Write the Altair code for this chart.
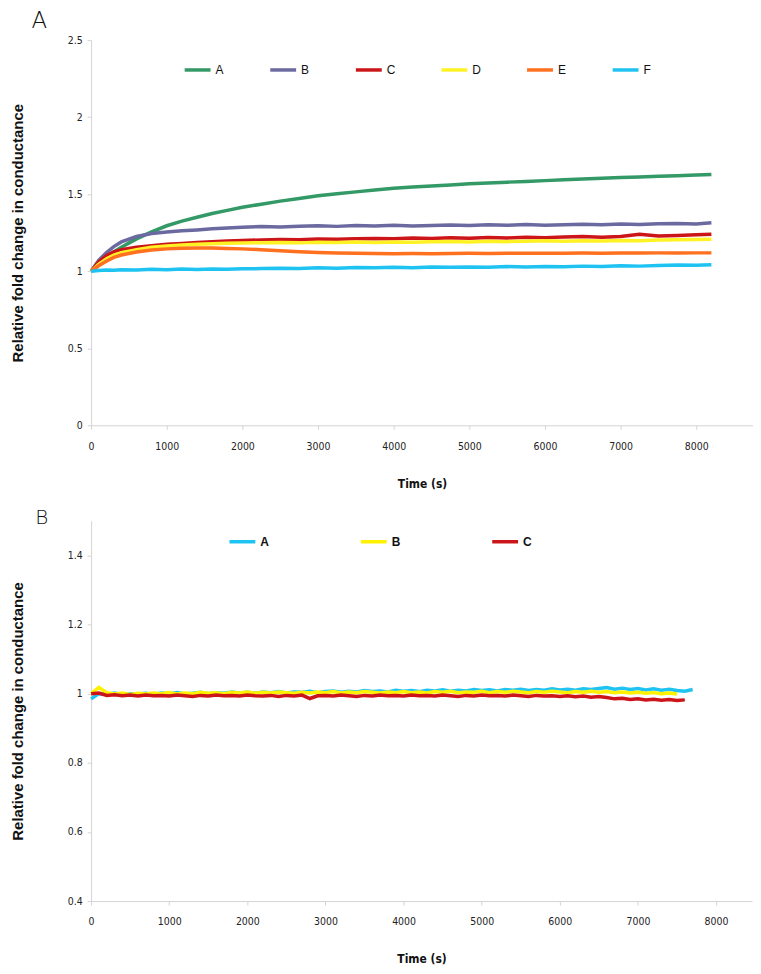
import altair as alt
import pandas as pd

# ---------------- Panel A data ----------------
t_top = [0, 100, 200, 300, 400, 600, 800, 1000, 1200, 1400, 1600, 1800, 2000,
         2250, 2500, 2750, 3000, 3250, 3500, 3750, 4000, 4250, 4500, 4750, 5000,
         5250, 5500, 5750, 6000, 6250, 6500, 6750, 7000, 7250, 7500, 7750, 8000,
         8200]
top_names = ["A", "B", "C", "D", "E", "F"]
top_colors = ["#339966", "#6a6aa0", "#cc1518", "#fff224", "#ff701f", "#1ec3f2"]

top_A = [1.000, 1.040, 1.085, 1.125, 1.155, 1.210, 1.255, 1.295, 1.325, 1.350, 1.375, 1.395, 1.415,
         1.435, 1.455, 1.472, 1.490, 1.503, 1.515, 1.527, 1.538, 1.546, 1.553, 1.560, 1.567,
         1.573, 1.578, 1.583, 1.588, 1.593, 1.598, 1.603, 1.608, 1.612, 1.616, 1.620, 1.625,
         1.628]
top_B = [1.000, 1.070, 1.120, 1.160, 1.190, 1.225, 1.245, 1.255, 1.262, 1.268, 1.275, 1.280, 1.285,
         1.290, 1.287, 1.292, 1.295, 1.291, 1.296, 1.293, 1.298, 1.294, 1.297, 1.300, 1.296,
         1.301, 1.298, 1.303, 1.299, 1.302, 1.305, 1.301, 1.306, 1.303, 1.308, 1.310, 1.307,
         1.315]
top_C = [1.000, 1.060, 1.100, 1.125, 1.140, 1.155, 1.165, 1.175, 1.180, 1.186, 1.192, 1.196, 1.200,
         1.203, 1.206, 1.204, 1.209, 1.207, 1.211, 1.213, 1.210, 1.215, 1.212, 1.217, 1.214,
         1.219, 1.216, 1.221, 1.218, 1.222, 1.225, 1.221, 1.226, 1.240, 1.229, 1.232, 1.236,
         1.240]
top_D = [1.000, 1.045, 1.080, 1.105, 1.120, 1.140, 1.155, 1.163, 1.170, 1.175, 1.178, 1.181, 1.183,
         1.185, 1.187, 1.184, 1.188, 1.186, 1.189, 1.187, 1.190, 1.188, 1.191, 1.193, 1.190,
         1.194, 1.192, 1.195, 1.197, 1.194, 1.198, 1.196, 1.200, 1.198, 1.202, 1.204, 1.206,
         1.208]
top_E = [1.000, 1.035, 1.065, 1.090, 1.105, 1.125, 1.138, 1.145, 1.149, 1.151, 1.150, 1.148, 1.145,
         1.140, 1.133, 1.126, 1.121, 1.118, 1.116, 1.115, 1.114, 1.115, 1.114, 1.115, 1.116,
         1.115, 1.116, 1.117, 1.116, 1.117, 1.118, 1.117, 1.118, 1.118, 1.119, 1.118, 1.119,
         1.119]
top_F = [1.000, 1.004, 1.008, 1.006, 1.010, 1.008, 1.012, 1.010, 1.014, 1.011, 1.015, 1.013, 1.016,
         1.017, 1.020, 1.018, 1.022, 1.020, 1.024, 1.022, 1.026, 1.023, 1.027, 1.025, 1.028,
         1.026, 1.030, 1.028, 1.031, 1.029, 1.033, 1.031, 1.035, 1.033, 1.037, 1.040, 1.038,
         1.042]
top_values = [top_A, top_B, top_C, top_D, top_E, top_F]

# ---------------- Panel B data ----------------
bot_names = ["A", "B", "C"]
bot_colors = ["#1ec3f2", "#fff200", "#cc1518"]

t_bot_A = list(range(0, 7800, 100))
bot_A = [0.985, 1.000, 0.998, 1.002, 0.997, 1.000, 0.999, 1.001, 0.998, 1.002,
         1.000, 1.003, 0.999, 1.001, 1.004, 1.000, 1.003, 1.001, 1.005, 1.002,
         1.004, 1.001, 1.005, 1.003, 1.006, 1.002, 1.005, 1.004, 1.007, 1.003,
         1.006, 1.008, 1.004, 1.007, 1.005, 1.009, 1.006, 1.008, 1.005, 1.010,
         1.007, 1.009, 1.006, 1.010, 1.008, 1.011, 1.007, 1.010, 1.008, 1.012,
         1.009, 1.011, 1.008, 1.012, 1.010, 1.013, 1.009, 1.012, 1.010, 1.014,
         1.011, 1.013, 1.010, 1.014, 1.012, 1.015, 1.018, 1.013, 1.016, 1.012,
         1.015, 1.011, 1.014, 1.010, 1.013, 1.009, 1.007, 1.012]
t_bot_B = list(range(0, 7600, 100))
bot_B = [1.000, 1.018, 1.003, 0.999, 1.002, 0.998, 1.001, 0.999, 1.002, 1.000,
         1.003, 0.999, 1.002, 1.000, 1.004, 1.001, 1.003, 1.000, 1.004, 1.002,
         1.005, 1.001, 1.004, 1.002, 1.005, 1.003, 1.001, 1.004, 1.002, 1.005,
         1.003, 1.006, 1.002, 1.005, 1.003, 1.006, 1.004, 1.002, 1.005, 1.003,
         1.006, 1.003, 1.005, 1.002, 1.006, 1.004, 1.007, 1.003, 1.005, 1.004,
         1.007, 1.003, 1.006, 1.004, 1.007, 1.005, 1.003, 1.006, 1.004, 1.007,
         1.005, 1.003, 1.006, 1.004, 1.007, 1.004, 1.006, 1.003, 1.005, 1.002,
         1.004, 1.001, 1.003, 1.000, 1.002, 0.999]
t_bot_C = list(range(0, 7700, 100))
bot_C = [1.000, 1.002, 0.995, 0.997, 0.994, 0.996, 0.993, 0.996, 0.994, 0.995,
         0.993, 0.996, 0.994, 0.992, 0.995, 0.993, 0.996, 0.994, 0.995, 0.993,
         0.996, 0.994, 0.993, 0.995, 0.992, 0.995, 0.993, 0.996, 0.986, 0.994,
         0.995, 0.993, 0.996, 0.994, 0.992, 0.995, 0.993, 0.996, 0.994, 0.995,
         0.993, 0.996, 0.994, 0.995, 0.993, 0.996, 0.994, 0.992, 0.995, 0.993,
         0.996, 0.994, 0.995, 0.993, 0.996, 0.994, 0.992, 0.995, 0.993, 0.994,
         0.992, 0.994, 0.991, 0.993, 0.990, 0.992, 0.989, 0.985, 0.987, 0.983,
         0.985, 0.982, 0.984, 0.981, 0.983, 0.980, 0.982]

rows = []
for name, vals in zip(top_names, top_values):
    for t, v in zip(t_top, vals):
        rows.append({"t": t, "v": v, "s": name})
df_top = pd.DataFrame(rows)

rows = []
for name, ts, vals in zip(bot_names, [t_bot_A, t_bot_B, t_bot_C], [bot_A, bot_B, bot_C]):
    for t, v in zip(ts, vals):
        rows.append({"t": t, "v": v, "s2": name})
df_bot = pd.DataFrame(rows)

AX_GRAY = "#d4d4d4"
LABEL_FONT = "DejaVu Sans Condensed, Liberation Sans"


def x_axis():
    return alt.Axis(values=list(range(0, 9000, 1000)), format="d", title="Time (s)",
                    grid=False, domainColor=AX_GRAY, tickColor=AX_GRAY, tickSize=4,
                    labelFont=LABEL_FONT, labelFontSize=10.5, labelColor="#222222",
                    labelPadding=12, titleFont=LABEL_FONT, titleFontSize=12,
                    titleFontWeight="bold", titleColor="#111111", titleY=53,
                    labelFlush=False)


def y_axis(vals):
    return alt.Axis(values=vals, format="~g", title="Relative fold change in conductance",
                    grid=False, domainColor=AX_GRAY, tickColor=AX_GRAY, tickSize=4,
                    labelFont=LABEL_FONT, labelFontSize=10.5, labelColor="#222222",
                    labelPadding=5, titleFont="Liberation Sans", titleFontSize=15,
                    titleFontWeight="bold", titleColor="#111111", titleX=-66,
                    titleAngle=270, titleBaseline="bottom", labelFlush=False)


top = alt.Chart(
    df_top,
    title=alt.Title("A", anchor="start", frame="group", fontSize=23, font="DejaVu Sans",
                    fontWeight=200, color="#111111", dx=-60, offset=2),
).mark_line(strokeWidth=3.5).encode(
    x=alt.X("t:Q", scale=alt.Scale(domain=[0, 8750], nice=False), axis=x_axis()),
    y=alt.Y("v:Q", scale=alt.Scale(domain=[0, 2.5], nice=False),
            axis=y_axis([0, 0.5, 1, 1.5, 2, 2.5])),
    color=alt.Color("s:N", scale=alt.Scale(domain=top_names, range=top_colors),
                    legend=alt.Legend(orient="none", legendX=92, legendY=15,
                                      direction="horizontal", columns=6, title=None,
                                      symbolType="stroke", symbolSize=676,
                                      symbolStrokeWidth=3.5, labelFont="Liberation Sans",
                                      labelFontSize=12, labelColor="#111111",
                                      labelOffset=3, columnPadding=39, gridAlign="all")),
).properties(width=665, height=387)

bot = alt.Chart(
    df_bot,
    title=alt.Title("B", anchor="start", frame="group", fontSize=20, font="DejaVu Sans",
                    fontWeight=200, color="#111111", dx=-56, offset=-7),
).mark_line(strokeWidth=3.5).encode(
    x=alt.X("t:Q", scale=alt.Scale(domain=[0, 8460], nice=False), axis=x_axis()),
    y=alt.Y("v:Q", scale=alt.Scale(domain=[0.4, 1.5], nice=False),
            axis=y_axis([0.4, 0.6, 0.8, 1, 1.2, 1.4])),
    color=alt.Color("s2:N", scale=alt.Scale(domain=bot_names, range=bot_colors),
                    legend=alt.Legend(orient="none", legendX=137, legendY=6,
                                      direction="horizontal", columns=3, title=None,
                                      symbolType="stroke", symbolSize=676,
                                      symbolStrokeWidth=3.5, labelFont="Liberation Sans",
                                      labelFontSize=12, labelFontWeight="bold",
                                      labelColor="#111111", labelOffset=3,
                                      columnPadding=85, gridAlign="all")),
).properties(width=664, height=382)

chart = alt.vconcat(top, bot, spacing=19).resolve_scale(color="independent").resolve_legend(
    color="independent"
).properties(
    padding={"left": 2.5, "top": 0, "right": 0, "bottom": 0}
).configure_view(stroke=None)

chart.save("out.html", embed_options={"renderer": "svg", "actions": False})
